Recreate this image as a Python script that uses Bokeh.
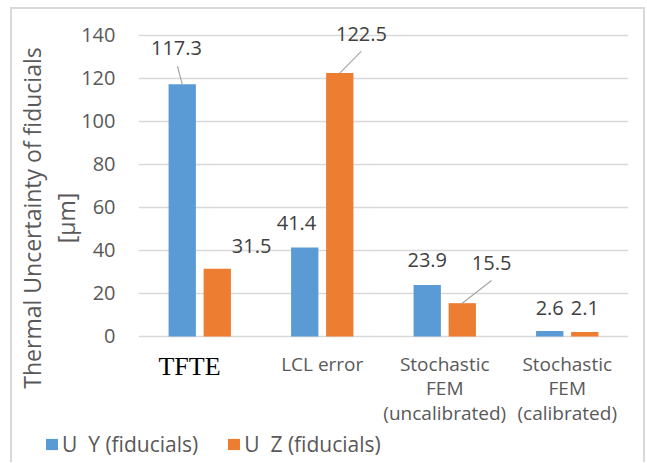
import numpy as np
from bokeh.plotting import figure
from bokeh.layouts import column
from bokeh.models import (Range1d, Legend, LegendItem, ColumnDataSource, FixedTicker, LinearAxis)
from bokeh.embed import file_html
from bokeh.resources import INLINE
from bokeh.core.properties import value

# ---- data ----
categories = ["TFTE", "LCL error", "Stochastic\nFEM\n(uncalibrated)", "Stochastic\nFEM\n(calibrated)"]
series_names = ["U  Y (fiducials)", "U  Z (fiducials)"]
u_y = [117.3, 41.4, 23.9, 2.6]
u_z = [31.5, 122.5, 15.5, 2.1]
y_ticks = [0, 20, 40, 60, 80, 100, 120, 140]
y_title = ["Thermal Uncertainty of fiducials", "[µm]"]

# ---- layout / style ----
BLUE = "#5B9BD5"
ORANGE = "#ED7D31"
GRID = "#D9D9D9"
TXT = "#595959"
LBL = "#404040"
FONT = "Open Sans"
bar_w = 0.223
dodge = 0.143
Y_MAX = 152.09          # headroom above the 140 gridline for the data labels
Y_MIN = -41.86          # room below the baseline for the category texts

# label placement (offsets from bar centre / top; layout only)
y_lab_dx = [-0.047, -0.067, 0.0, 0.0]
y_lab_dy = [16.7, 11.2, 11.5, 10.5]
z_lab_dx = [0.280, 0.177, 0.239, 0.0]
z_lab_dy = [10.4, 18.1, 18.5, 11.0]
leaders = [(0, 0, -0.039, 8.4), (1, 1, 0.175, 10.1), (1, 2, 0.239, 10.5)]
cat_line_y = [-12.6, -24.0, -35.4]
tfte_dx, tfte_y = -0.084, -14.0

n = len(categories)
centers = np.arange(n) + 0.5
x_y = centers - dodge
x_z = centers + dodge

W = 631
p = figure(width=W, height=417, x_range=Range1d(0, n), y_range=Range1d(Y_MIN, Y_MAX),
           output_backend="svg", toolbar_location=None, x_axis_location=None,
           min_border_left=126, min_border_right=15, min_border_top=0, min_border_bottom=0)
p.outline_line_color = None
p.background_fill_color = "white"
p.border_fill_color = "white"

src = ColumnDataSource(dict(xy=x_y, xz=x_z, uy=u_y, uz=u_z))
r_y = p.vbar(x="xy", top="uy", width=bar_w, bottom=0, source=src, fill_color=BLUE, line_color=None)
r_z = p.vbar(x="xz", top="uz", width=bar_w, bottom=0, source=src, fill_color=ORANGE, line_color=None)

# grid
p.xgrid.visible = False
p.ygrid.ticker = FixedTicker(ticks=y_ticks)
p.ygrid.grid_line_color = GRID
p.ygrid.grid_line_width = 1.5

# y axis with ticks, second title line as its label
ya = p.yaxis[0]
ya.ticker = FixedTicker(ticks=y_ticks)
ya.axis_line_color = None
ya.major_tick_line_color = None
ya.minor_tick_line_color = None
ya.major_tick_out = 0
ya.major_tick_in = 0
ya.major_label_standoff = 23
ya.major_label_text_font = FONT
ya.major_label_text_font_size = "20px"
ya.major_label_text_color = TXT
ya.axis_label = y_title[1]
ya.axis_label_standoff = -4
ya.axis_label_text_font = FONT
ya.axis_label_text_font_size = "23px"
ya.axis_label_text_font_style = "normal"
ya.axis_label_text_color = TXT

# outer axis carrying the first title line (one invisible tick)
ya2 = LinearAxis(ticker=FixedTicker(ticks=[0]), axis_label=y_title[0],
                 major_label_overrides={0: ""},
                 axis_line_color=None, major_tick_line_color=None, minor_tick_line_color=None,
                 major_tick_out=0, major_tick_in=0, major_label_standoff=0,
                 major_label_text_font_size="1px",
                 axis_label_standoff=0, axis_label_text_font=FONT, axis_label_text_font_size="23px",
                 axis_label_text_font_style="normal", axis_label_text_color=TXT)
p.add_layout(ya2, "left")

# data labels
lab_x = list(x_y + np.array(y_lab_dx)) + list(x_z + np.array(z_lab_dx))
lab_y = [v + d for v, d in zip(u_y, y_lab_dy)] + [v + d for v, d in zip(u_z, z_lab_dy)]
lab_t = [f"{v:.1f}" for v in u_y] + [f"{v:.1f}" for v in u_z]
p.text(x=lab_x, y=lab_y, text=lab_t, text_font=value(FONT), text_font_size="20px",
       text_color=LBL, text_align="center", text_baseline="alphabetic")

# leader lines
bx = [x_y, x_z]
bv = [u_y, u_z]
p.segment(x0=[bx[s][i] + dx for s, i, dx, dy in leaders],
          y0=[bv[s][i] + dy for s, i, dx, dy in leaders],
          x1=[bx[s][i] for s, i, dx, dy in leaders],
          y1=[bv[s][i] for s, i, dx, dy in leaders],
          line_color="#A6A6A6", line_width=1.2)

# category texts
cx, cy, ct = [], [], []
for i, cat in enumerate(categories):
    if cat == "TFTE":
        continue
    for j, line in enumerate(cat.split("\n")):
        cx.append(centers[i]); cy.append(cat_line_y[j]); ct.append(line)
p.text(x=cx, y=cy, text=ct, text_font=value(FONT), text_font_size="19px",
       text_color=TXT, text_align="center", text_baseline="alphabetic")
ti = categories.index("TFTE")
p.text(x=[centers[ti] + tfte_dx], y=[tfte_y], text=[categories[ti]],
       text_font=value("Liberation Serif"), text_font_size="26px",
       text_color="#000000", text_align="center", text_baseline="alphabetic")

# ---- legend strip below ----
p2 = figure(width=W, height=36, x_range=Range1d(0, 1), y_range=Range1d(0, 1),
            output_backend="svg", toolbar_location=None, x_axis_location=None, y_axis_location=None,
            min_border_left=28, min_border_right=0, min_border_top=0, min_border_bottom=0)
p2.frame_align = False
p2.outline_line_color = None
p2.xgrid.visible = False
p2.ygrid.visible = False
p2.border_fill_color = "white"
# swatch-only renderers (placed outside the visible range)
d_y = p2.vbar(x=[-9], top=[0], bottom=[0], width=0.1, fill_color=BLUE, line_color=None)
d_z = p2.vbar(x=[-9], top=[0], bottom=[0], width=0.1, fill_color=ORANGE, line_color=None)
lg = Legend(items=[LegendItem(label=series_names[0], renderers=[d_y]),
                   LegendItem(label=series_names[1], renderers=[d_z])],
            location="top_left", orientation="horizontal", padding=0, margin=4, spacing=28,
            border_line_color=None, background_fill_alpha=0,
            glyph_width=15, glyph_height=14, label_height=14, label_standoff=3,
            label_text_font=FONT, label_text_font_size="21px", label_text_color=TXT)
p2.add_layout(lg, "center")

layout = column(p, p2, spacing=0,
                styles={"border-left": f"2px solid {GRID}", "border-top": f"2px solid {GRID}",
                        "border-right": f"2px solid {GRID}", "margin-left": "10px", "margin-top": "7px"})

open("out.html", "w").write(file_html(layout, INLINE))
